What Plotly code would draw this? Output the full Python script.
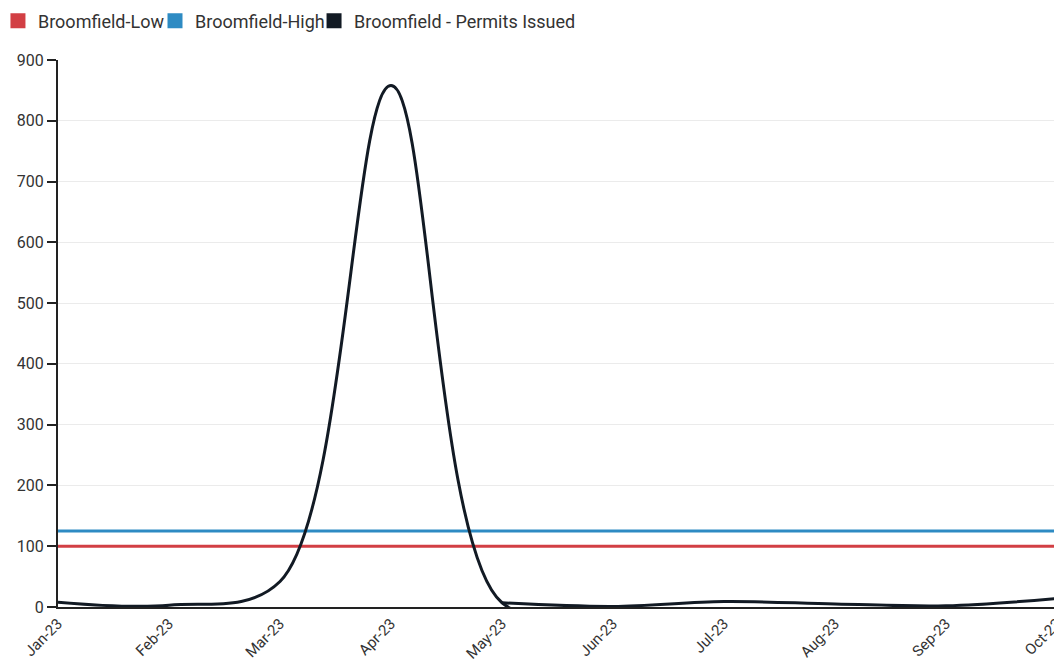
import plotly.graph_objects as go

months = ["Jan-23", "Feb-23", "Mar-23", "Apr-23", "May-23", "Jun-23", "Jul-23", "Aug-23", "Sep-23", "Oct-23"]
permits = [8, 3, 42, 858, 7, 1, 9, 5, 2, 14]
low_level = [100] * len(months)
high_level = [125] * len(months)

red = "#d23f44"
blue = "#2e8bc3"
black = "#121a24"

fig = go.Figure()
fig.add_trace(go.Scatter(x=months, y=low_level, mode="lines", line=dict(color=red, width=3),
                         name="Broomfield-Low", showlegend=False))
fig.add_trace(go.Scatter(x=months, y=high_level, mode="lines", line=dict(color=blue, width=3),
                         name="Broomfield-High", showlegend=False))
# permits line drawn in two overlapping pieces of the same series (no visible overshoot after May)
for a, b in [(0, 6), (4, 10)]:
    fig.add_trace(go.Scatter(x=months[a:b], y=permits[a:b], mode="lines",
                             line=dict(color=black, width=3, shape="spline", smoothing=1),
                             name="Broomfield - Permits Issued", showlegend=False))

legend_items = [("Broomfield-Low", red, "legend", -0.0601),
                ("Broomfield-High", blue, "legend2", 0.0971),
                ("Broomfield - Permits Issued", black, "legend3", 0.2563)]
for name, col, lg, _ in legend_items:
    fig.add_trace(go.Scatter(x=[None], y=[None], mode="markers", name=name, legend=lg,
                             marker=dict(symbol="square", size=15, color=col)))

legend_style = dict(orientation="h", xanchor="left", y=1.071, yanchor="middle",
                    font=dict(size=18, color="#333"), itemwidth=30, bgcolor="rgba(0,0,0,0)")
fig.update_layout(
    width=1054, height=651,
    margin=dict(l=50, r=5, t=52, b=52, autoexpand=False),
    paper_bgcolor="white", plot_bgcolor="white",
    font=dict(family="Roboto", size=15, color="#333"),
    legend=dict(x=legend_items[0][3], **legend_style),
    legend2=dict(x=legend_items[1][3], **legend_style),
    legend3=dict(x=legend_items[2][3], **legend_style),
    showlegend=True,
)
fig.update_xaxes(type="category", range=[0, 9], tickangle=-45, showline=True, linecolor="#222",
                 linewidth=2, ticks="", showgrid=False,
                 tickfont=dict(size=15, color="#333"))
fig.update_yaxes(range=[0, 900], dtick=100, showline=True, linecolor="#222", linewidth=2,
                 ticks="outside", ticklen=9, tickwidth=1.5, tickcolor="#222", showgrid=True,
                 gridcolor="#ebebeb", zeroline=False, tickfont=dict(size=16, color="#333"))

fig.write_html("out.html")
